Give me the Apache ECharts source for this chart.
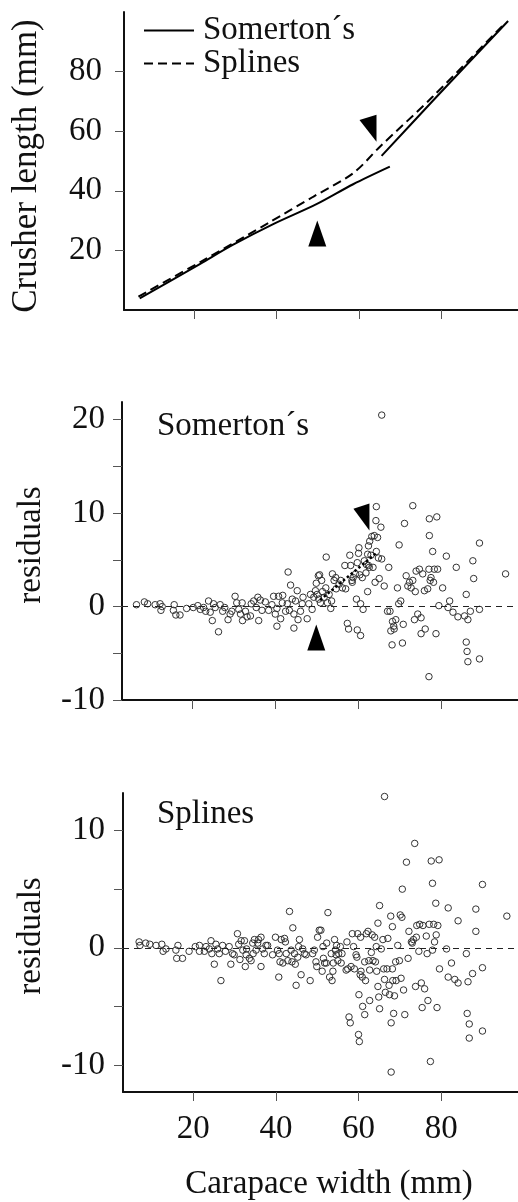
<!DOCTYPE html>
<html><head><meta charset="utf-8">
<script src="https://cdn.jsdelivr.net/npm/echarts@6/dist/echarts.min.js"></script>
<style>html,body{margin:0;padding:0;background:#fff}#c{width:518px;height:1202px}</style>
</head><body><div id="c"></div>
<script>
// ---- tick values ----
const xTicks = [20, 40, 60, 80];
const crusherTicks = [20, 40, 60, 80];
const somTicks = [-10, -5, 0, 5, 10, 15, 20];
const somLabels = [-10, 0, 10, 20];
const splTicks = [-10, -5, 0, 5, 10];
const splLabels = [-10, 0, 10];

// ---- fitted curves (carapace width, crusher length) ----
const somertonSeg1 = [[6.8,3.9],[21.5,15.5],[29.5,21.9],[39.2,28.8],[49.7,35.5],[58.6,42.2],[67.5,48.1]];
const somertonSeg2 = [[65.5,51.7],[78.0,70.3],[96.2,97.0]];
const splineFit = [[6.5,4.5],[21.5,16.1],[38.4,29.5],[48.9,38.0],[58.6,45.9],[65.1,54.8],[78.0,71.7],[95.4,96.2]];

// ---- residuals ----
const somertonResiduals = [
[6.5,0.2],[8.4,0.5],[9.2,0.3],[11.0,0.2],[12.2,0.3],[12.4,-0.4],[12.7,0.0],[15.4,-0.4],[15.6,0.2],[16.0,-0.9],
[17.0,-0.9],[18.6,-0.2],[20.2,-0.1],[21.3,0.1],[21.9,-0.3],[22.7,-0.1],[23.2,-0.5],[23.9,0.6],[24.3,-0.6],[24.8,-1.5],
[25.1,0.3],[25.5,-0.1],[26.3,-2.7],[26.7,0.2],[27.3,-0.5],[27.8,-0.1],[28.6,-1.4],[29.1,-0.8],[29.5,-0.5],[30.3,1.1],
[30.7,0.4],[31.2,-0.3],[31.6,-0.8],[32.0,0.4],[32.1,-1.5],[32.8,-0.5],[33.2,-1.1],[34.0,-1.0],[34.2,0.3],[34.8,0.6],
[35.4,-0.1],[35.8,1.0],[36.0,-1.5],[36.4,0.7],[36.8,-0.4],[37.6,0.5],[38.4,-0.4],[39.2,0.2],[39.6,1.1],[40.0,-0.8],
[40.4,-0.2],[40.4,-2.1],[40.8,1.1],[41.3,-1.3],[41.7,0.4],[41.8,1.2],[42.5,-0.5],[42.9,0.3],[43.1,3.7],[43.4,-0.4],
[43.7,2.3],[44.1,0.8],[44.5,-0.8],[44.5,-2.3],[44.9,0.6],[45.3,1.7],[45.5,-1.4],[46.1,-0.5],[46.5,0.3],[46.7,1.0],
[47.7,-1.3],[48.1,0.3],[48.5,1.3],[48.9,-0.3],[49.3,1.0],[49.7,1.7],[49.9,2.5],[50.1,1.3],[50.4,3.3],[50.5,0.8],
[50.7,3.4],[50.9,0.4],[51.2,2.8],[51.4,1.6],[51.8,1.0],[52.2,2.0],[52.3,5.3],[52.6,0.4],[53.0,1.3],[53.4,-0.2],
[53.6,0.6],[53.8,3.5],[54.2,2.8],[54.6,3.1],[54.7,1.9],[55.4,2.4],[55.8,2.8],[56.2,2.0],[56.8,4.4],[57.0,1.9],
[57.4,-1.8],[57.7,-2.4],[58.0,5.5],[58.2,4.4],[58.5,2.8],[58.6,2.6],[58.8,3.1],[59.4,3.5],[59.6,0.8],[59.8,4.7],
[59.8,-2.5],[60.1,5.7],[60.2,6.3],[60.4,3.4],[60.6,0.3],[60.6,-3.1],[61.0,3.1],[61.2,-0.3],[61.5,4.9],[61.9,3.6],
[62.0,4.5],[62.3,5.6],[62.3,1.6],[62.5,4.4],[62.5,6.5],[62.7,4.2],[62.8,7.0],[63.1,5.5],[63.3,7.5],[63.6,4.2],
[63.9,7.6],[64.1,2.6],[64.3,9.2],[64.4,5.9],[64.4,10.7],[64.7,7.4],[64.9,5.2],[65.1,3.0],[65.5,8.5],[65.7,5.1],
[65.7,20.5],[66.3,2.2],[67.1,-0.5],[67.4,4.2],[67.7,-0.5],[67.9,-2.6],[68.2,-4.1],[68.3,-1.6],[68.6,-2.1],[68.7,-2.4],
[69.1,-1.4],[69.8,0.3],[69.9,6.6],[69.5,2.0],[70.3,0.6],[70.7,-3.9],[70.9,-1.9],[71.2,8.9],[71.6,3.3],[72.0,2.2],
[72.4,2.6],[72.8,2.0],[73.2,10.8],[73.2,2.8],[73.6,-1.4],[73.8,1.6],[74.0,3.8],[74.4,-0.8],[74.8,4.0],[75.2,-1.2],
[75.2,-2.9],[75.6,3.5],[76.0,1.7],[76.2,-2.4],[76.8,1.9],[77.1,4.0],[77.2,7.6],[77.2,9.4],[77.4,2.8],[77.6,3.1],
[78.0,5.9],[78.2,2.6],[78.4,4.0],[78.8,-2.9],[79.0,9.6],[79.2,4.0],[79.5,0.1],[80.4,2.0],[81.3,5.4],[81.7,-0.1],
[82.1,0.6],[82.9,-0.6],[83.7,4.2],[84.1,-1.1],[85.7,-1.0],[86.1,1.3],[86.1,-3.8],[86.5,-1.4],[86.3,-4.8],[86.5,-5.9],
[87.1,-0.5],[87.7,4.9],[87.9,3.0],[89.3,6.8],[89.3,-0.3],[89.3,-5.6],[95.6,3.5],[77.1,-7.5]
];
const splineResiduals = [
[6.9,0.5],[7.1,0.2],[8.5,0.4],[9.5,0.3],[11.0,0.2],[12.4,0.3],[12.7,-0.3],[13.4,-0.1],[15.8,-0.2],[16.0,-0.9],
[16.3,0.2],[17.4,-0.9],[19.0,-0.3],[20.5,0.1],[21.5,0.2],[21.5,-0.3],[22.7,-0.3],[23.1,0.1],[23.9,-0.1],[24.3,0.6],
[24.5,-0.5],[25.1,-1.4],[25.5,0.3],[25.9,-0.1],[26.3,-0.5],[26.7,-2.8],[27.1,0.2],[27.8,-0.3],[28.7,0.1],[29.1,-1.4],
[29.5,-0.5],[29.9,-0.6],[30.7,1.2],[31.0,0.3],[31.3,-1.0],[31.6,0.6],[32.0,-0.2],[32.4,0.6],[32.6,-1.6],[32.8,-0.6],
[32.9,-0.1],[33.6,-0.9],[34.0,-1.1],[34.4,0.4],[34.5,-0.5],[34.8,0.7],[35.2,-0.2],[35.6,0.4],[35.8,0.7],[36.4,-1.6],
[36.4,0.9],[36.8,-0.1],[37.2,-0.5],[37.6,0.2],[38.0,0.2],[39.2,-0.6],[39.9,0.9],[40.4,-0.2],[40.7,-2.5],[40.8,-0.5],
[41.0,-1.2],[41.3,0.7],[41.7,-1.3],[42.1,0.8],[42.3,0.5],[42.5,-0.5],[42.9,-1.1],[43.3,3.1],[43.7,-0.2],[43.9,-1.2],
[44.1,1.7],[44.5,-0.5],[44.7,-1.4],[44.9,-3.2],[45.3,-0.8],[45.5,0.1],[45.7,0.7],[46.1,-2.3],[46.5,-0.1],[46.9,-0.5],
[47.3,-0.6],[48.3,-2.8],[48.9,-0.5],[49.3,-0.2],[49.7,-1.2],[49.9,-1.6],[50.1,0.9],[50.5,1.5],[50.9,1.5],[51.2,-2.0],
[51.4,0.1],[51.5,-0.9],[51.8,-1.3],[52.2,-1.3],[52.3,0.4],[52.6,3.0],[53.0,-2.5],[53.4,-0.5],[53.6,-2.8],[53.8,-2.0],
[53.9,-1.3],[54.2,0.7],[54.4,-0.2],[54.6,-0.6],[54.7,0.2],[55.0,-1.1],[55.2,-0.5],[55.6,0.1],[55.8,-1.3],[56.0,-0.5],
[57.0,-1.9],[57.2,0.5],[57.4,-1.8],[57.7,-5.9],[58.0,-6.4],[58.2,-1.6],[58.5,1.2],[58.8,0.1],[59.0,-1.8],[59.4,-0.6],
[59.6,-0.8],[59.8,1.2],[60.0,-7.4],[60.1,-4.0],[60.2,-8.0],[60.4,-2.3],[60.5,0.9],[60.6,-2.0],[60.9,-2.5],[61.0,-5.0],
[61.5,-5.7],[61.5,-1.2],[61.7,-2.8],[61.9,1.2],[62.3,1.4],[62.5,-1.1],[62.7,-1.9],[62.7,-4.5],[63.1,-0.4],[63.3,1.1],
[63.5,-1.1],[63.9,0.9],[64.1,-1.2],[64.3,0.1],[64.4,-2.0],[64.7,-3.3],[64.7,2.1],[64.9,-4.2],[65.1,3.6],[65.1,-5.2],
[65.5,-0.1],[65.9,0.7],[66.1,-1.8],[66.3,12.9],[66.3,-2.7],[66.5,-3.8],[66.9,-1.8],[67.1,0.8],[67.4,-3.2],[67.5,-4.0],
[67.8,2.7],[67.9,-6.4],[67.9,-10.6],[68.2,-1.8],[68.2,1.8],[68.3,-2.8],[68.5,-5.6],[68.7,-4.1],[69.0,-1.2],[69.1,-2.8],
[69.5,0.2],[69.9,-1.1],[70.1,2.8],[70.3,-2.6],[70.5,2.6],[70.6,5.0],[70.9,-3.6],[71.2,-5.7],[71.6,7.3],[72.0,-0.9],
[72.2,1.4],[72.8,0.5],[73.0,0.4],[73.3,0.7],[73.6,8.9],[73.8,-3.3],[74.0,0.9],[74.1,1.9],[74.6,-0.3],[74.8,2.0],
[75.2,-3.0],[75.4,-5.1],[75.6,1.9],[76.0,-3.5],[76.4,1.0],[76.6,-0.5],[76.8,-4.5],[77.1,2.0],[77.4,-9.7],[77.6,7.4],
[77.9,-0.2],[77.9,5.5],[78.2,2.0],[78.4,0.5],[78.7,3.8],[78.8,1.1],[79.0,-5.1],[79.2,1.9],[79.5,7.5],[79.6,-1.8],
[81.3,-0.1],[81.7,3.4],[81.7,-2.5],[82.5,-1.3],[83.3,-2.7],[84.1,2.3],[84.1,-3.0],[86.1,-0.5],[86.3,-5.6],[86.5,-2.9],
[86.8,-6.5],[86.8,-7.7],[87.6,-2.2],[88.4,3.3],[88.4,1.4],[90.0,5.4],[90.0,-1.7],[90.0,-7.1],[95.9,2.7]
];
const breakTrend = [[50.8,0.7],[64.6,5.8]];

// ---- arrowhead annotations (data coords) ----
const arrowUpTop = [[49.9,25.7]];
const arrowDownTop = [[62.2,61.0]];
const arrowUpRes = [[49.9,-3.3]];
const arrowDownRes = [[60.8,9.6]];

const FONT = "'Liberation Serif','Times New Roman',serif";
const chart = echarts.init(document.getElementById('c'), null, {renderer:'canvas'});
const axisLineStyle = {show:true, onZero:false, lineStyle:{color:'#111', width:2}};
const tickStyle = {color:'#555', width:1};

function xAxis(gi, showLabels){
  return {
    type:'value', gridIndex:gi, min:3, max:98.6,
    axisLine: axisLineStyle,
    axisTick:{show:true, inside:false, length:9, lineStyle:tickStyle, customValues:xTicks},
    axisLabel:{show:showLabels, customValues:xTicks, fontFamily:FONT, fontSize:33, color:'#111', margin:21},
    splitLine:{show:false}
  };
}
function yAxis(gi, min, max, ticks, labels, margin){
  return {
    type:'value', gridIndex:gi, min:min, max:max,
    axisLine: axisLineStyle,
    axisTick:{show:true, length:9, lineStyle:tickStyle, customValues:ticks},
    axisLabel:{show:true, customValues:labels, fontFamily:FONT, fontSize:33, color:'#111', margin:margin},
    splitLine:{show:false}
  };
}
const circleStyle = {color:'rgba(255,255,255,0)', borderColor:'#333', borderWidth:1, opacity:1};
const zeroLine = {silent:true, symbol:'none', label:{show:false},
  lineStyle:{type:[6,5], color:'#222', width:1}, data:[{yAxis:0}]};
const arrowPath = 'path://M0,16L50,0L50,82Z';
const solidArrow = {color:'#000', opacity:1};

chart.setOption({
  animation:false,
  backgroundColor:'#fff',
  grid:[
    {left:124, top:12, width:394, height:298, outerBoundsMode:'none'},
    {left:122, top:402, width:396, height:298, outerBoundsMode:'none'},
    {left:123, top:793, width:395, height:299, outerBoundsMode:'none'}
  ],
  xAxis:[xAxis(0,false), xAxis(1,false), xAxis(2,true)],
  yAxis:[
    yAxis(0, 0, 100, crusherTicks, crusherTicks, 22),
    yAxis(1, -10, 21.9, somTicks, somLabels, 17),
    yAxis(2, -12.3, 13.2, splTicks, splLabels, 18)
  ],
  legend:{
    data:['Somerton´s','Splines'], orient:'vertical', left:138, top:9,
    itemWidth:50, itemHeight:14, itemGap:0, selectedMode:false,
    itemStyle:{opacity:0},
    textStyle:{fontFamily:FONT, fontSize:33, color:'#111', lineHeight:29, padding:[0,0,0,4]}
  },
  graphic:[
    {type:'text', x:27, y:166, rotation:Math.PI/2, style:{text:'Crusher length (mm)', font:'35px '+FONT, fill:'#111', textAlign:'center', textVerticalAlign:'middle'}},
    {type:'text', x:31, y:545, rotation:Math.PI/2, style:{text:'residuals', font:'33px '+FONT, fill:'#111', textAlign:'center', textVerticalAlign:'middle'}},
    {type:'text', x:31, y:936, rotation:Math.PI/2, style:{text:'residuals', font:'33px '+FONT, fill:'#111', textAlign:'center', textVerticalAlign:'middle'}},
    {type:'text', x:329, y:1184, style:{text:'Carapace width (mm)', font:'33px '+FONT, fill:'#111', textAlign:'center', textVerticalAlign:'middle'}},
    {type:'text', x:157, y:426, style:{text:'Somerton´s', font:'33px '+FONT, fill:'#111', textAlign:'left', textVerticalAlign:'middle'}},
    {type:'text', x:157, y:814, style:{text:'Splines', font:'33px '+FONT, fill:'#111', textAlign:'left', textVerticalAlign:'middle'}}
  ],
  series:[
    {name:'Somerton´s', type:'line', xAxisIndex:0, yAxisIndex:0, data:somertonSeg1, symbol:'none', showSymbol:false, smooth:0.3,
      lineStyle:{color:'#000', width:2}, itemStyle:{color:'#000'}},
    {name:'Somerton´s', type:'line', xAxisIndex:0, yAxisIndex:0, data:somertonSeg2, symbol:'none', showSymbol:false, smooth:0.3,
      lineStyle:{color:'#000', width:2}, itemStyle:{color:'#000'}},
    {name:'Splines', type:'line', xAxisIndex:0, yAxisIndex:0, data:splineFit, symbol:'none', showSymbol:false, smooth:0.3,
      lineStyle:{color:'#000', width:2, type:[9,5]}, itemStyle:{color:'#000'}},
    {type:'scatter', xAxisIndex:0, yAxisIndex:0, data:arrowUpTop, symbol:'triangle', symbolSize:[18,26], itemStyle:solidArrow, silent:true},
    {type:'scatter', xAxisIndex:0, yAxisIndex:0, data:arrowDownTop, symbol:arrowPath, symbolSize:[17,27], itemStyle:solidArrow, silent:true},

    {type:'scatter', xAxisIndex:1, yAxisIndex:1, data:somertonResiduals, symbol:'circle', symbolSize:6.5, itemStyle:circleStyle, markLine:zeroLine, silent:true},
    {type:'line', xAxisIndex:1, yAxisIndex:1, data:breakTrend, symbol:'none', lineStyle:{color:'#000', width:2.5, type:'dotted'}, silent:true},
    {type:'scatter', xAxisIndex:1, yAxisIndex:1, data:arrowUpRes, symbol:'triangle', symbolSize:[18,26], itemStyle:solidArrow, silent:true},
    {type:'scatter', xAxisIndex:1, yAxisIndex:1, data:arrowDownRes, symbol:arrowPath, symbolSize:[16,27], itemStyle:solidArrow, silent:true},

    {type:'scatter', xAxisIndex:2, yAxisIndex:2, data:splineResiduals, symbol:'circle', symbolSize:6.5, itemStyle:circleStyle, markLine:zeroLine, silent:true}
  ]
});
</script></body></html>
